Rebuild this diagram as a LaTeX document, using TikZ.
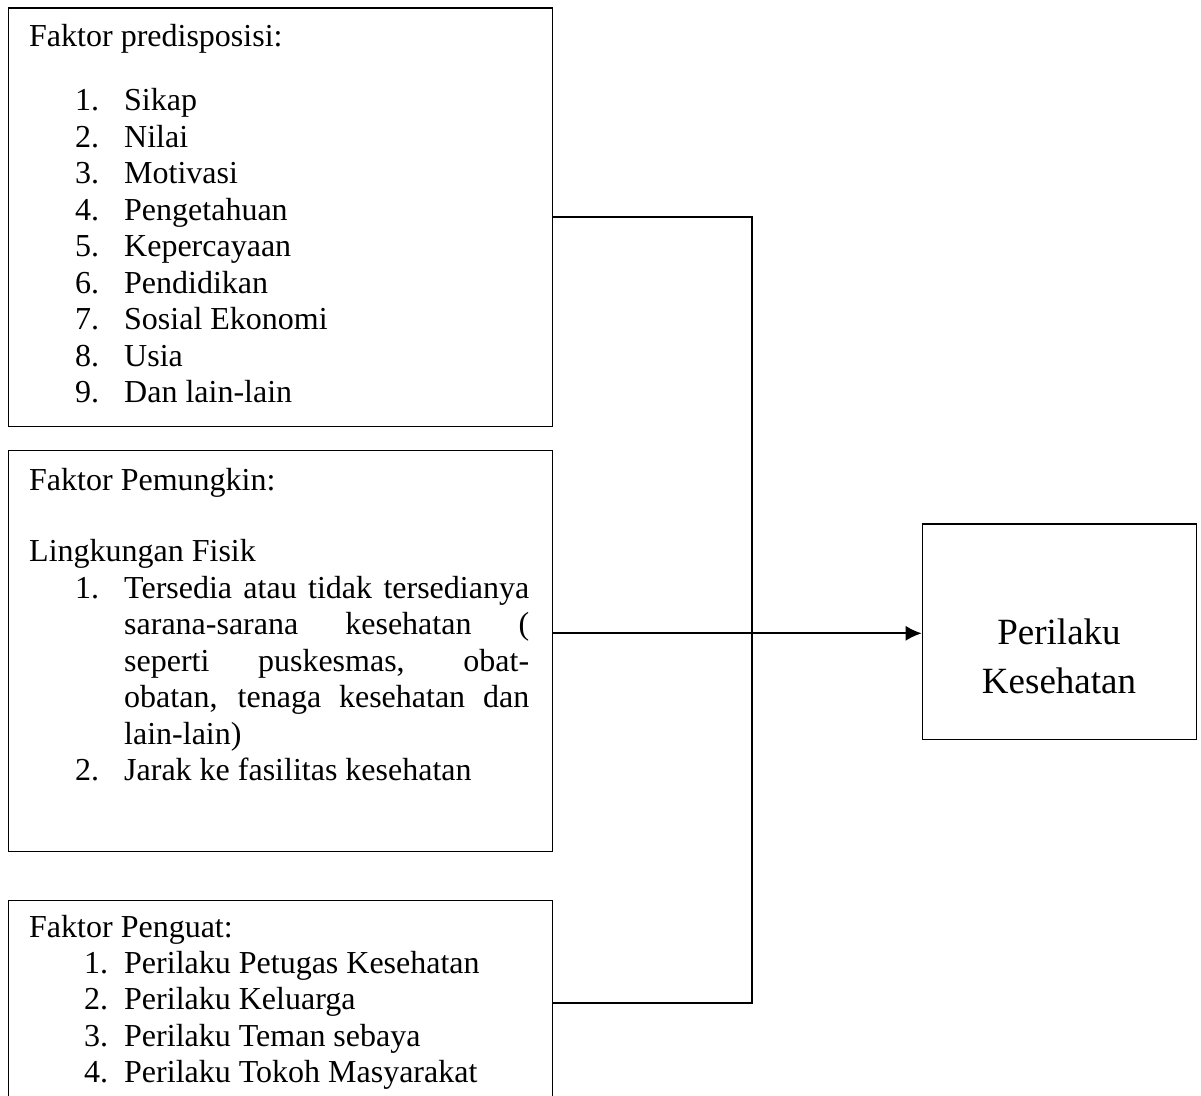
\documentclass[tikz,border=0pt]{standalone}
\usepackage{fontspec}
\setmainfont{Liberation Serif}
\usetikzlibrary{arrows.meta}
\begin{document}
\begin{tikzpicture}[x=1pt,y=-1pt,
  box/.style={draw, line width=1.4pt, rectangle, inner sep=0pt, anchor=north west},
  txt/.style={anchor=base west, inner sep=0pt, font=\fontsize{32}{36.5}\selectfont},
  big/.style={anchor=base, inner sep=0pt, font=\fontsize{37}{44}\selectfont},
  conn/.style={line width=1.7pt}]
\clip (0,0) rectangle (1201,1095);
\fill[white] (0,0) rectangle (1201,1095);
% boxes
\node[box, minimum width=544pt, minimum height=418.7pt] (b1) at (8,7.3) {};
\node[box, minimum width=544pt, minimum height=401pt] (b2) at (8,450) {};
\node[box, minimum width=544pt, minimum height=240pt] (b3) at (8,900) {};
\node[box, minimum width=274.3pt, minimum height=215.7pt] (r) at (921.7,523.3) {};
% box 1 text
\node[txt] (t1) at (29,46) {Faktor predisposisi:};
\foreach \t [count=\k] in {Sikap, Nilai, Motivasi, Pengetahuan, Kepercayaan, Pendidikan, Sosial Ekonomi, Usia, Dan lain-lain}{
  \node[txt] (pn\k) at (75,{110.5+36.5*(\k-1)}) {\k.};
  \node[txt] (pt\k) at (124,{110.5+36.5*(\k-1)}) {\t};
}
% box 2 text
\node[txt] (t2) at (29,490) {Faktor Pemungkin:};
\node[txt] (lf) at (29,561.7) {Lingkungan Fisik};
\node[txt] (mn1) at (75,598.3) {1.};
\node[txt] (ml1) at (124,598.3) {\makebox[405pt][s]{Tersedia atau tidak tersedianya}};
\node[txt] (ml2) at (124,634.8) {\makebox[405pt][s]{sarana-sarana kesehatan (}};
\node[txt] (ml3) at (124,671.3) {\makebox[405pt][s]{seperti puskesmas, obat-}};
\node[txt] (ml4) at (124,707.8) {\makebox[405pt][s]{obatan, tenaga kesehatan dan}};
\node[txt] (ml5) at (124,744.3) {lain-lain)};
\node[txt] (mn2) at (75,780.8) {2.};
\node[txt] (ml6) at (124,780.8) {Jarak ke fasilitas kesehatan};
% box 3 text
\node[txt] (t3) at (29,937) {Faktor Penguat:};
\foreach \t [count=\k] in {Perilaku Petugas Kesehatan, Perilaku Keluarga, Perilaku Teman sebaya, Perilaku Tokoh Masyarakat}{
  \node[txt] (qn\k) at (84,{973+36.5*(\k-1)}) {\k.};
  \node[txt] (qt\k) at (124,{973+36.5*(\k-1)}) {\t};
}
% right box text
\node[big] (r1) at (1059,644) {Perilaku};
\node[big] (r2) at (1059,693) {Kesehatan};
% connectors
\coordinate (j1) at (751.7,216.7);
\coordinate (j3) at (751.7,1003.3);
\coordinate (ja) at (751.7,633.3);
\draw[conn] (b1.east |- j1) -- (j1) -- (j3) -- (b3.east |- j3);
\draw[conn, -{Latex[length=16pt,width=15pt]}] (b2.east |- ja) -- (r.west |- ja);
\end{tikzpicture}
\end{document}
